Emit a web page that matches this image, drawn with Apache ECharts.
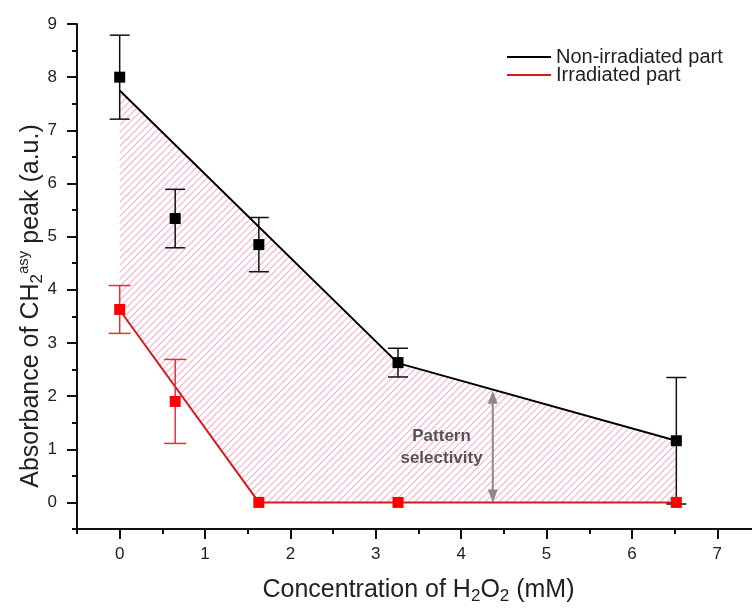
<!DOCTYPE html>
<html><head><meta charset="utf-8">
<script src="https://cdn.jsdelivr.net/npm/echarts@6/dist/echarts.min.js"></script>
<style>html,body{margin:0;padding:0;background:#fff}#c{width:752px;height:608px}</style>
</head><body><div id="c"></div>
<script>
// ---- data ----
const concentration = [0, 0.65, 1.63, 3.26, 6.52];
const nonIrrMean = [8.0, 5.34, 4.85, 2.63, 1.16];
const nonIrrErr  = [0.79, 0.55, 0.51, 0.27, 1.19];
const irrMean = [3.63, 1.90, 0, 0, 0];
const irrErr  = [0.45, 0.79, 0, 0, 0];
const nonIrrLineX = [0, 3.26, 6.52];
const nonIrrLineY = [7.75, 2.62, 1.16];
const irrLineX = [0, 1.63, 6.52];
const irrLineY = [3.62, 0, 0];
const xTicks = [0, 1, 2, 3, 4, 5, 6, 7];
const xMinorTicks = [-0.5, 0.5, 1.5, 2.5, 3.5, 4.5, 5.5, 6.5, 7.5];
const yTicks = [0, 1, 2, 3, 4, 5, 6, 7, 8, 9];
const yMinorTicks = [-0.5, 0.5, 1.5, 2.5, 3.5, 4.5, 5.5, 6.5, 7.5, 8.5];
const seriesNames = ['Non-irradiated part', 'Irradiated part'];
const arrowX = 4.37, arrowTop = 2.10, arrowBottom = 0;
const noteX = 3.77, noteY = 1.04, noteText = 'Pattern\nselectivity';

const FONT = 'Liberation Sans, Arial, sans-serif';

const hatch = document.createElement('canvas');
hatch.width = 7; hatch.height = 7;
(function () {
  const g = hatch.getContext('2d');
  g.strokeStyle = '#f3b3cd'; g.lineWidth = 1.2;
  g.beginPath();
  g.moveTo(-1, 8); g.lineTo(8, -1);
  g.moveTo(-1, 1); g.lineTo(1, -1);
  g.moveTo(6, 8); g.lineTo(8, 6);
  g.stroke();
})();

function zip(a, b) { return a.map((v, i) => [v, b[i]]); }
function errData(m, e) { return concentration.map((x, i) => [x, m[i], e[i]]).filter(d => d[2] > 0); }
function errRender(color, half) {
  return function (params, api) {
    const x = api.value(0), y = api.value(1), e = api.value(2);
    const t = api.coord([x, y + e]), b = api.coord([x, y - e]);
    const st = { stroke: color, lineWidth: 1.5 };
    return { type: 'group', children: [
      { type: 'line', shape: { x1: t[0], y1: t[1], x2: b[0], y2: b[1] }, style: st },
      { type: 'line', shape: { x1: t[0] - half, y1: t[1], x2: t[0] + half, y2: t[1] }, style: st },
      { type: 'line', shape: { x1: b[0] - half, y1: b[1], x2: b[0] + half, y2: b[1] }, style: st }
    ]};
  };
}

const axisLineStyle = { color: '#111', width: 2 };
const chart = echarts.init(document.getElementById('c'));
chart.setOption({
  animation: false,
  backgroundColor: '#fff',
  grid: { left: 77, right: -8, top: 24, bottom: 79, containLabel: false, outerBoundsMode: 'none' },
  legend: {
    data: seriesNames.map(n => ({ name: n, icon: 'rect' })),
    orient: 'vertical', left: 507, top: 47, padding: 0,
    itemWidth: 44, itemHeight: 2, itemGap: -2,
    textStyle: { fontSize: 20, fontFamily: FONT, color: '#222', lineHeight: 17 }
  },
  xAxis: [{
    type: 'value', min: -0.5, max: 7.5, position: 'bottom',
    axisLine: { show: true, onZero: false, lineStyle: axisLineStyle },
    axisTick: { show: true, customValues: xTicks, length: 10, lineStyle: axisLineStyle },
    axisLabel: { customValues: xTicks, margin: 17, fontSize: 17, fontFamily: FONT, color: '#222' },
    splitLine: { show: false },
    name: 'Concentration of H{sub|2}O{sub|2} (mM)', nameLocation: 'middle', nameGap: 46,
    nameTextStyle: { fontSize: 25, fontFamily: FONT, color: '#222', lineHeight: 30,
      rich: { sub: { fontSize: 17, fontFamily: FONT, color: '#222', lineHeight: 14, verticalAlign: 'bottom' } } }
  }, {
    type: 'value', min: -0.5, max: 7.5, position: 'bottom',
    axisLine: { show: false, onZero: false },
    axisTick: { show: true, customValues: xMinorTicks, length: 5, lineStyle: axisLineStyle },
    axisLabel: { show: false }, splitLine: { show: false }
  }],
  yAxis: [{
    type: 'value', min: -0.5, max: 9, position: 'left',
    axisLine: { show: true, onZero: false, lineStyle: axisLineStyle },
    axisTick: { show: true, customValues: yTicks, length: 10, lineStyle: axisLineStyle },
    axisLabel: { customValues: yTicks, margin: 20, fontSize: 17, fontFamily: FONT, color: '#222' },
    splitLine: { show: false }
  }, {
    type: 'value', min: -0.5, max: 9, position: 'left',
    axisLine: { show: false, onZero: false },
    axisTick: { show: true, customValues: yMinorTicks, length: 5, lineStyle: axisLineStyle },
    axisLabel: { show: false }, splitLine: { show: false }
  }],
  graphic: [{
    type: 'text', x: 31, y: 306, rotation: Math.PI / 2, silent: true,
    style: {
      text: 'Absorbance of CH{sub|2}{sup|asy} peak (a.u.)',
      fontSize: 25, fontFamily: FONT, fill: '#222', lineHeight: 30,
      align: 'center', verticalAlign: 'middle',
      rich: {
        sub: { fontSize: 17, fontFamily: FONT, fill: '#222', lineHeight: 14, verticalAlign: 'bottom' },
        sup: { fontSize: 15, fontFamily: FONT, fill: '#222', lineHeight: 14, verticalAlign: 'top' }
      }
    }
  }],
  series: [
    {
      type: 'custom', name: 'area', coordinateSystem: 'cartesian2d', silent: true, z: 1,
      data: [[0, 0]],
      renderItem: function (params, api) {
        const pts = [];
        nonIrrLineX.forEach((x, i) => pts.push(api.coord([x, nonIrrLineY[i]])));
        for (let i = irrLineX.length - 1; i >= 0; i--) pts.push(api.coord([irrLineX[i], irrLineY[i]]));
        return { type: 'polygon', shape: { points: pts },
          style: { fill: { type: 'pattern', image: hatch, repeat: 'repeat' }, stroke: null } };
      }
    },
    {
      type: 'line', name: seriesNames[0], data: zip(nonIrrLineX, nonIrrLineY), symbol: 'none',
      lineStyle: { color: '#000', width: 2 }, itemStyle: { color: '#000' }, z: 3
    },
    {
      type: 'line', name: seriesNames[1], data: zip(irrLineX, irrLineY), symbol: 'none',
      lineStyle: { color: '#d71920', width: 2 }, itemStyle: { color: '#d71920' }, z: 3
    },
    {
      type: 'custom', name: 'arrow', coordinateSystem: 'cartesian2d', silent: true, z: 2,
      data: [[arrowX, arrowTop, arrowBottom, noteX, noteY]],
      renderItem: function (params, api) {
        const t = api.coord([api.value(0), api.value(1)]);
        const b = api.coord([api.value(0), api.value(2)]);
        const n = api.coord([api.value(3), api.value(4)]);
        const c = '#8a8a8a', hw = 5, hl = 13;
        return { type: 'group', children: [
          { type: 'line', shape: { x1: t[0], y1: t[1] + hl - 2, x2: b[0], y2: b[1] - hl + 2 }, style: { stroke: c, lineWidth: 2 } },
          { type: 'polygon', shape: { points: [[t[0], t[1]], [t[0] - hw, t[1] + hl], [t[0] + hw, t[1] + hl]] }, style: { fill: c } },
          { type: 'polygon', shape: { points: [[b[0], b[1]], [b[0] - hw, b[1] - hl], [b[0] + hw, b[1] - hl]] }, style: { fill: c } },
          { type: 'text', x: n[0], y: n[1], style: { text: noteText, align: 'center', verticalAlign: 'middle',
            fontSize: 17, fontWeight: 'bold', fontFamily: FONT, fill: '#555', lineHeight: 22 } }
        ]};
      }
    },
    {
      type: 'custom', name: 'errBlack', coordinateSystem: 'cartesian2d', silent: true, z: 4,
      data: errData(nonIrrMean, nonIrrErr), encode: { x: 0, y: 1 },
      renderItem: errRender('#111', 10)
    },
    {
      type: 'custom', name: 'errRed', coordinateSystem: 'cartesian2d', silent: true, z: 4,
      data: errData(irrMean, irrErr), encode: { x: 0, y: 1 },
      renderItem: errRender('#e0303a', 11)
    },
    {
      type: 'scatter', name: 'ptsBlack', data: zip(concentration, nonIrrMean),
      symbol: 'rect', symbolSize: 11, itemStyle: { color: '#000', opacity: 1 }, z: 5
    },
    {
      type: 'scatter', name: 'ptsRed', data: zip(concentration, irrMean),
      symbol: 'rect', symbolSize: 11, itemStyle: { color: '#ff0000', opacity: 1 }, z: 6
    }
  ]
});
</script>
</body></html>
